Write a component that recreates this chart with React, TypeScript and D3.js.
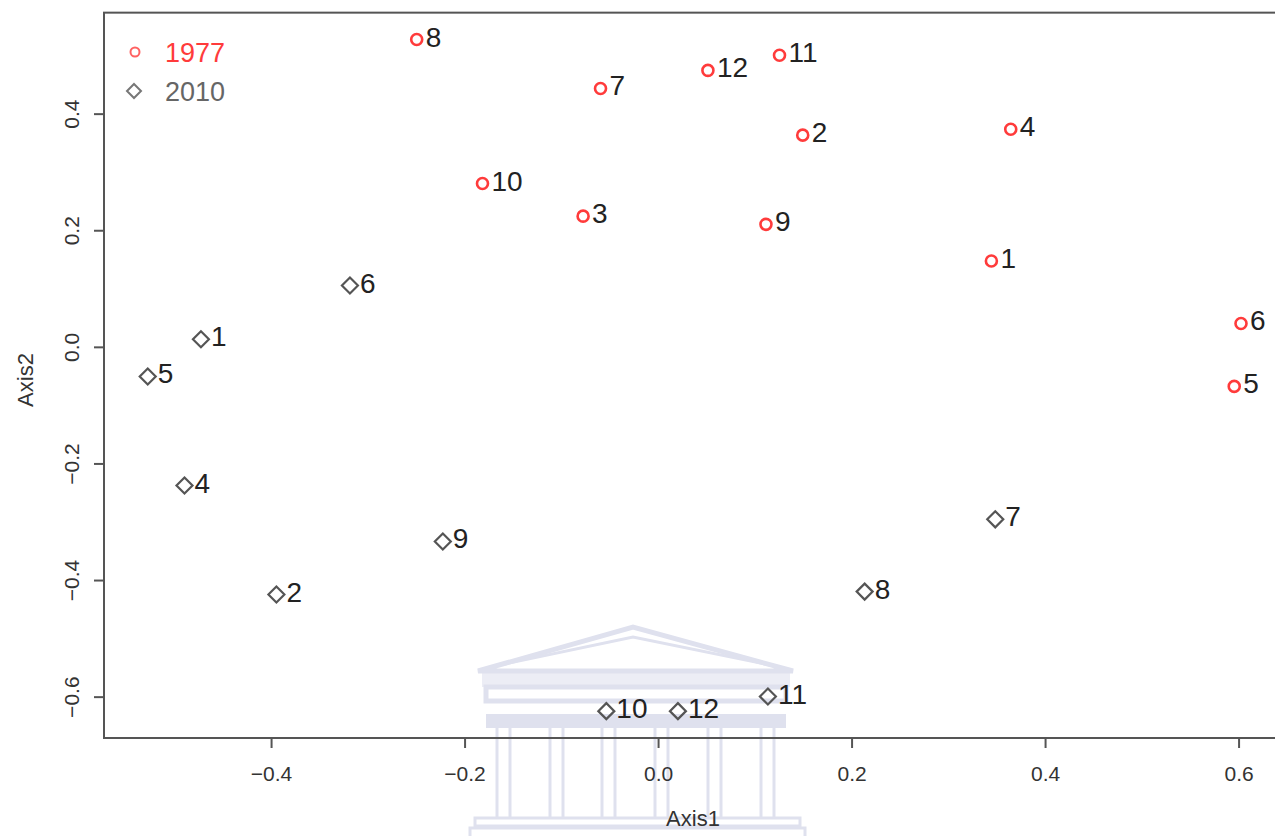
import React from 'react';
import * as d3 from 'd3';

// point ids and coordinates
const ids1977 = ['1', '2', '3', '4', '5', '6', '7', '8', '9', '10', '11', '12'];
const x1977 = [0.344, 0.149, -0.078, 0.364, 0.595, 0.602, -0.060, -0.250, 0.111, -0.182, 0.125, 0.051];
const y1977 = [0.148, 0.364, 0.225, 0.374, -0.067, 0.041, 0.444, 0.528, 0.211, 0.281, 0.501, 0.475];

const ids2010 = ['1', '2', '4', '5', '6', '7', '8', '9', '10', '11', '12'];
const x2010 = [-0.473, -0.395, -0.490, -0.528, -0.319, 0.348, 0.213, -0.223, -0.054, 0.113, 0.020];
const y2010 = [0.014, -0.424, -0.237, -0.050, 0.106, -0.295, -0.419, -0.333, -0.624, -0.599, -0.624];

const xTicks = [-0.4, -0.2, 0.0, 0.2, 0.4, 0.6];
const yTicks = [-0.6, -0.4, -0.2, 0.0, 0.2, 0.4];
const legendLabels = ['1977', '2010'];

const W = 1275;
const H = 836;
const FONT = '"Liberation Sans", Arial, sans-serif';

// R style: pad data range by 4%
const pad = (ext: [number, number]) => {
  const d = (ext[1] - ext[0]) * 0.04;
  return [ext[0] - d, ext[1] + d];
};

const allX = [...x1977, ...x2010];
const allY = [...y1977, ...y2010];
const xDom = pad(d3.extent(allX) as [number, number]);
const yDom = pad(d3.extent(allY) as [number, number]);

const left = 104;
const bottom = 738;
const xScale = d3.scaleLinear().domain(xDom).range([left, left + (xDom[1] - xDom[0]) * 967.5]);
const yScale = d3.scaleLinear().domain(yDom).range([bottom, bottom - (yDom[1] - yDom[0]) * 583]);

const fmt = d3.format('.1f');

const RED = '#ff3b3b';
const GREY = '#555';
const WM = '#dfe1ee';

// faint building watermark behind the plot
const Watermark = () => {
  const cols = [497, 550, 602, 655, 708, 761];
  return (
    <g fill="none" stroke={WM} strokeWidth={5}>
      <path d="M478,671 L633,627 L793,671 Z" />
      <path d="M500,665 L633,637 L770,665" strokeWidth={3} />
      <rect x={482} y={673} width={308} height={14} fill={WM} stroke="none" opacity={0.6} />
      <rect x={486} y={687} width={300} height={14} />
      <rect x={486} y={714} width={300} height={14} fill={WM} stroke="none" />
      {cols.map(c => (
        <g key={c}>
          <line x1={c} x2={c} y1={728} y2={818} strokeWidth={3} />
          <line x1={c + 13} x2={c + 13} y1={728} y2={818} strokeWidth={3} />
        </g>
      ))}
      <rect x={475} y={818} width={325} height={8} strokeWidth={3} />
      <rect x={470} y={828} width={335} height={10} strokeWidth={3} />
    </g>
  );
};

const App = () => {
  const top = yScale(yDom[1]);
  const right = xScale(xDom[1]);
  return (
    <div style={{ position: 'fixed', left: 0, top: 0, width: W, height: H, overflow: 'hidden', background: '#fff' }}>
      <svg width={W} height={H} style={{ display: 'block', fontFamily: FONT }}>
        <Watermark />

        {/* box */}
        <rect x={left} y={top} width={right - left} height={bottom - top} fill="none" stroke={GREY} strokeWidth={2} />

        {/* x axis */}
        {xTicks.map(t => (
          <g key={'x' + t}>
            <line x1={xScale(t)} x2={xScale(t)} y1={bottom} y2={bottom + 10} stroke={GREY} strokeWidth={2} />
            <text x={xScale(t)} y={781} textAnchor="middle" fontSize={21} fill="#333">{fmt(t)}</text>
          </g>
        ))}
        <text x={693} y={826} textAnchor="middle" fontSize={22} fill="#333">Axis1</text>

        {/* y axis */}
        {yTicks.map(t => (
          <g key={'y' + t}>
            <line x1={left} x2={left - 10} y1={yScale(t)} y2={yScale(t)} stroke={GREY} strokeWidth={2} />
            <text transform={`translate(79,${yScale(t)}) rotate(-90)`} textAnchor="middle" fontSize={21} fill="#333">{fmt(t)}</text>
          </g>
        ))}
        <text transform="translate(33,380) rotate(-90)" textAnchor="middle" fontSize={22} fill="#333">Axis2</text>

        {/* 1977 circles */}
        {ids1977.map((id, i) => {
          const cx = xScale(x1977[i]);
          const cy = yScale(y1977[i]);
          return (
            <g key={'a' + id}>
              <circle cx={cx} cy={cy} r={5.5} fill="none" stroke={RED} strokeWidth={2.6} />
              <text x={cx + 9} y={cy + 7} fontSize={28} fill="#222">{id}</text>
            </g>
          );
        })}

        {/* 2010 diamonds */}
        {ids2010.map((id, i) => {
          const cx = xScale(x2010[i]);
          const cy = yScale(y2010[i]);
          const s = 8;
          return (
            <g key={'b' + id}>
              <path d={`M${cx},${cy - s} L${cx + s},${cy} L${cx},${cy + s} L${cx - s},${cy} Z`} fill="none" stroke={GREY} strokeWidth={2.2} />
              <text x={cx + 10} y={cy + 7} fontSize={28} fill="#222">{id}</text>
            </g>
          );
        })}

        {/* legend */}
        <circle cx={135} cy={52} r={4.5} fill="none" stroke={RED} strokeWidth={2} opacity={0.8} />
        <text x={165} y={62} fontSize={27} fill={RED}>{legendLabels[0]}</text>
        <path d="M134,84 L141,91 L134,98 L127,91 Z" fill="none" stroke="#777" strokeWidth={2} />
        <text x={165} y={101} fontSize={27} fill="#666">{legendLabels[1]}</text>
      </svg>
    </div>
  );
};

export default App;
